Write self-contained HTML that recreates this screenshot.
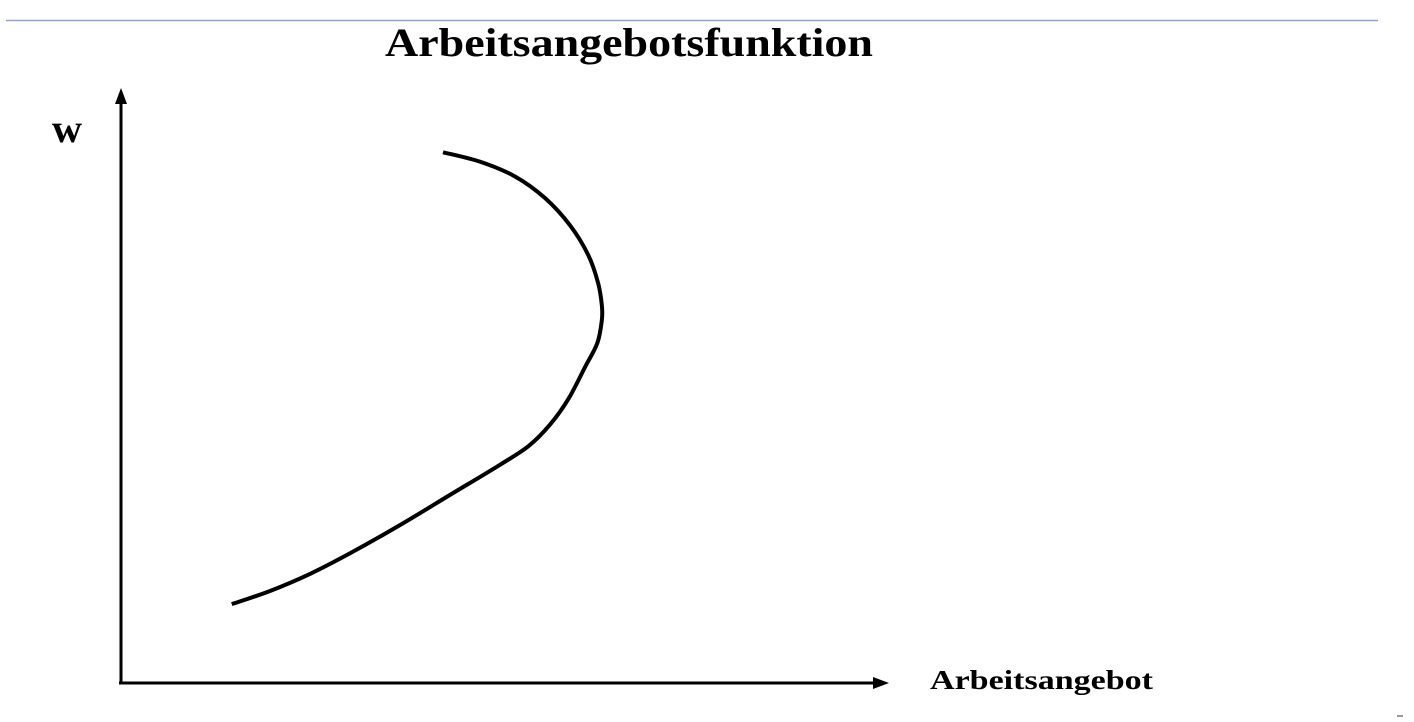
<!DOCTYPE html>
<html><head><meta charset="utf-8"><style>
html,body{margin:0;padding:0;background:#fff;}
svg{display:block;}
</style></head><body>
<svg id="chart" width="1414" height="722" viewBox="0 0 1414 722" xmlns="http://www.w3.org/2000/svg">
<line x1="6" y1="20.5" x2="1378" y2="20.5" stroke="#8fa3cc" stroke-width="1.5"/>
<text x="385" y="56" textLength="488" lengthAdjust="spacingAndGlyphs" font-family="'Liberation Serif', serif" font-weight="bold" font-size="40" fill="#000">Arbeitsangebotsfunktion</text>
<text x="52" y="142" textLength="30" lengthAdjust="spacingAndGlyphs" font-family="'Liberation Serif', serif" font-weight="bold" font-size="40" fill="#000">w</text>
<text x="930" y="689" textLength="223" lengthAdjust="spacingAndGlyphs" font-family="'Liberation Serif', serif" font-weight="bold" font-size="27" fill="#000">Arbeitsangebot</text>
<line x1="121" y1="684" x2="121" y2="100" stroke="#000" stroke-width="3"/>
<polygon points="121,88 115,104 127,104" fill="#000"/>
<line x1="119" y1="683" x2="875" y2="683" stroke="#000" stroke-width="3"/>
<polygon points="889,683 873,677 873,689" fill="#000"/>
<rect x="1397" y="715" width="6" height="2" fill="#999"/>
<path id="curve" fill="none" stroke="#000" stroke-width="4" stroke-linecap="butt"/>
</svg>
<script>
const laborValues = [14.7,19.7,25.0,30.3,36.8,43.4,50.0,53.8,56.6,59.0,61.2,62.8,63.4,63.4,62.9,61.6,59.2,55.9,52.0,47.4,42.5];
const wageValues  = [13.3,15.5,18.4,21.9,26.6,31.7,36.8,40.0,43.6,47.9,53.3,57.3,61.2,63.7,67.5,72.2,77.2,81.8,85.4,87.9,89.5];
function xScale(v){return 120 + v*7.6;}
function yScale(v){return 683 - v*5.93;}
const pts = laborValues.map((l,i)=>[xScale(l), yScale(wageValues[i])]);
let d = 'M'+pts[0][0]+','+pts[0][1];
for(let i=0;i<pts.length-1;i++){
  const p0=pts[Math.max(0,i-1)], p1=pts[i], p2=pts[i+1], p3=pts[Math.min(pts.length-1,i+2)];
  const c1=[p1[0]+(p2[0]-p0[0])/6, p1[1]+(p2[1]-p0[1])/6];
  const c2=[p2[0]-(p3[0]-p1[0])/6, p2[1]-(p3[1]-p1[1])/6];
  d+=' C'+c1[0]+','+c1[1]+' '+c2[0]+','+c2[1]+' '+p2[0]+','+p2[1];
}
document.getElementById('curve').setAttribute('d', d);
</script>
</body></html>
